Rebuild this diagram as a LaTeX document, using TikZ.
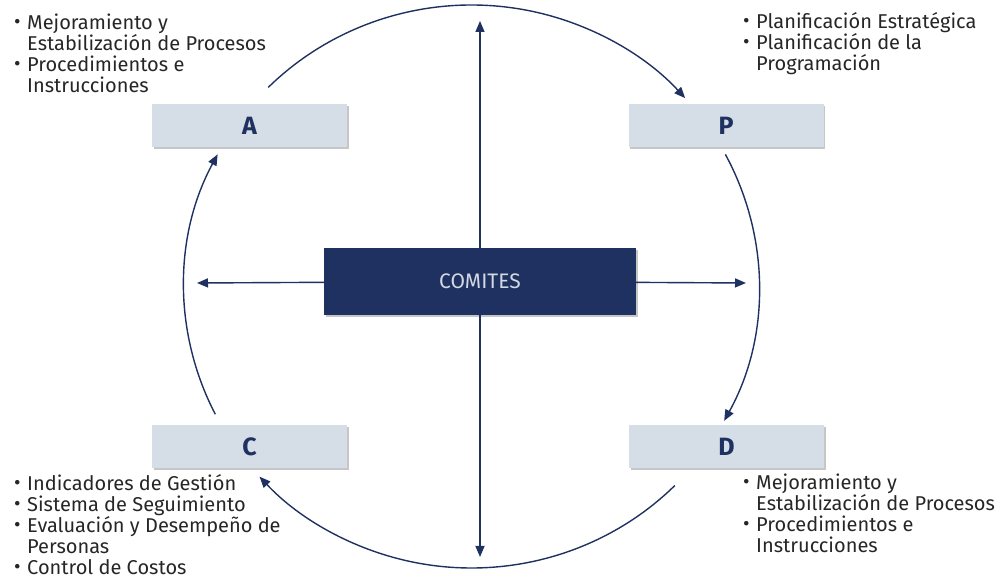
\documentclass[tikz,border=0pt]{standalone}
\usepackage{fontspec}
\setmainfont{Fira Sans}
\usetikzlibrary{arrows.meta,shadows}
\definecolor{navy}{HTML}{1E3160}
\definecolor{paleblue}{HTML}{D5DDE6}
\definecolor{inktext}{HTML}{262626}
\definecolor{comtext}{HTML}{D3D8E3}
\newcommand{\dotitem}{\makebox[13pt][l]{\raisebox{0.1ex}{\textbullet}}}
\newcommand{\hangin}{\hspace*{13pt}}
\begin{document}
\begin{tikzpicture}[x=1pt,y=1pt,
  phase/.style={rectangle,fill=paleblue,minimum width=195pt,minimum height=43pt,inner sep=0pt,
    font=\fontsize{25}{25}\selectfont\bfseries,text=navy,
    drop shadow={shadow xshift=1.5pt,shadow yshift=-2pt,opacity=0.45}},
  notes/.style={align=left,inner sep=0pt,text=inktext,font=\fontsize{20}{21}\selectfont},
  flow/.style={navy,line width=1.4pt,-{Triangle[length=11pt,width=9pt]}}]
  \useasboundingbox (0,0) rectangle (1008,580);
  \coordinate (ring) at (471.5,293.5);

  \node[phase] (A) at (249.5,454.5) {A};
  \node[phase] (P) at (726,454.5) {P};
  \node[phase] (C) at (249.5,133.5) {C};
  \node[phase] (D) at (726.5,133.5) {D};
  \node[rectangle,fill=navy,minimum width=312pt,minimum height=67pt,inner sep=0pt,
    text=comtext,font=\fontsize{21}{21}\selectfont,
    drop shadow={shadow xshift=1.5pt,shadow yshift=-2pt,opacity=0.45}] (com) at (480,298.5) {COMITES};

  \coordinate (endN) at (480,559);
  \coordinate (endS) at (480,23);
  \coordinate (endW) at (197,297);
  \coordinate (endE) at (746,297);
  \draw [flow] (com) -- (endN);
  \draw [flow] (com) -- (endS);
  \draw [flow] (com) -- (endW);
  \draw [flow] (com) -- (endE);

  % cycle A -> P -> D -> C -> A
  \draw [flow] (ring) ++(135:287.5 and 281.5) arc[start angle=135,end angle=42,x radius=287.5,y radius=281.5];
  \draw [flow] (ring) ++(28:287.5 and 281.5) arc[start angle=28,end angle=-28.5,x radius=287.5,y radius=281.5];
  \draw [flow] (ring) ++(-45:287.5 and 281.5) arc[start angle=-45,end angle=-137.5,x radius=287.5,y radius=281.5];
  \draw [flow] (ring) ++(207:287.5 and 281.5) arc[start angle=207,end angle=152,x radius=287.5,y radius=281.5];

  \node[notes,anchor=north west] (noteA) at (14,566) {\dotitem Mejoramiento y\\ \hangin Estabilización de Procesos\\ \dotitem Procedimientos e\\ \hangin Instrucciones};
  \node[notes,anchor=north west] (noteP) at (743,568) {\dotitem Planificación Estratégica\\ \dotitem Planificación de la\\ \hangin Programación};
  \node[notes,anchor=north west] (noteC) at (14,106) {\dotitem Indicadores de Gestión\\ \dotitem Sistema de Seguimiento\\ \dotitem Evaluación y Desempeño de\\ \hangin Personas\\ \dotitem Control de Costos};
  \node[notes,anchor=north west] (noteD) at (743,106) {\dotitem Mejoramiento y\\ \hangin Estabilización de Procesos\\ \dotitem Procedimientos e\\ \hangin Instrucciones};
\end{tikzpicture}
\end{document}
